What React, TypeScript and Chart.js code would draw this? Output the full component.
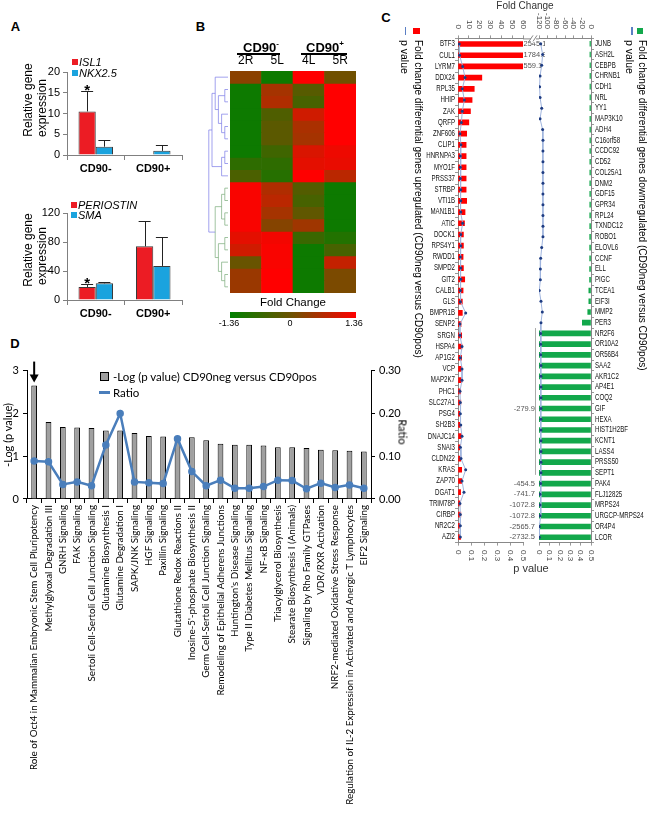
import React, { useEffect, useRef } from 'react';
import { Chart, registerables } from 'chart.js';
Chart.register(...registerables);
Chart.defaults.color = '#000';

const ARIAL = "'Liberation Sans', Arial, sans-serif";
const CAL = "Lato, 'Open Sans', sans-serif";
const RED = '#ec1c24';
const BLUE = '#1aa3de';

// ---------- Panel A data ----------
const A1_CATS = ['CD90-', 'CD90+'];
const ISL1 = [10.5, 0];
const ISL1_ERR = [5.0, 0];
const ISL1_STAR = [true, false];
const NKX25 = [2.0, 1.0];
const NKX25_ERR = [1.5, 1.4];
const A1_TICKS = { max: 20, step: 5 };

const A2_CATS = ['CD90-', 'CD90+'];
const PERIOSTIN = [18, 74];
const PERIOSTIN_ERR = [4, 35];
const PERIOSTIN_STAR = [true, false];
const SMA = [23, 47];
const SMA_ERR = [2, 40];
const A2_TICKS = { max: 120, step: 40 };

// ---------- Panel B data ----------
const HEAT_COLS = ['2R', '5L', '4L', '5R'];
const HEAT_RANGE = 1.36;
const HEAT_ROWS = [
  [0.25, -1.2, 1.36, 0.0],
  [-1.2, 0.5, -0.3, 1.36],
  [-1.2, 0.6, -0.5, 1.36],
  [-1.2, -0.4, 0.9, 1.36],
  [-1.2, -0.25, 0.55, 1.36],
  [-1.2, -0.25, 0.5, 1.36],
  [-1.2, -0.6, 1.0, 1.2],
  [-0.8, -0.8, 1.1, 1.15],
  [-0.45, -0.9, 1.36, 0.7],
  [1.3, 0.6, -0.35, -1.2],
  [1.3, 0.7, -0.5, -1.2],
  [1.3, 0.5, -0.2, -1.2],
  [1.3, 0.2, 0.45, -1.2],
  [1.1, 1.25, -0.65, -0.95],
  [0.9, 1.3, -1.2, -0.5],
  [-0.1, 1.3, -1.2, 0.8],
  [0.4, 1.36, -1.2, 0.1],
  [0.4, 1.36, -1.2, 0.1],
];
const DENDRO_TOP = [[0, [[1, 2], [3, [4, 5]]]], [[6, 7], 8]];
const DENDRO_BOTTOM = [[[9, 10], [11, 12]], [[13, 14], [15, [16, 17]]]];

// ---------- Panel C data ----------
const UP_GENES = ['BTF3', 'CUL1', 'LYRM7', 'DDX24', 'RPL35', 'HHIP', 'ZAK', 'QRFP', 'ZNF606', 'CLIP1', 'HNRNPA3', 'MYO1F', 'PRSS37', 'STRBP', 'VTI1B', 'MAN1B1', 'ATIC', 'DOCK1', 'RPS4Y1', 'RWDD1', 'SMPD2', 'GIT2', 'CALB1', 'GLS', 'BMPR1B', 'SENP2', 'SRGN', 'HSPA4', 'AP1G2', 'VCP', 'MAP2K7', 'PHC1', 'SLC27A1', 'PSG4', 'SH2B3', 'DNAJC14', 'SNAI3', 'CLDN22', 'KRAS', 'ZAP70', 'DGAT1', 'TRIM78P', 'CIRBP', 'NR2C2', 'AZI2'];
const FC_UP = [2545.1, 1784.9, 559.1, 22, 15, 13, 11.5, 10, 8, 7.5, 7.5, 7.5, 7.5, 7.5, 8, 6.5, 6, 5, 5, 4.7, 5, 6.2, 4.7, 4, 4, 2.8, 3.4, 3.7, 3.3, 3.5, 3.6, 2.5, 2.6, 2.4, 2.4, 3.4, 2.4, 2.6, 3.4, 3.4, 2.4, 1.9, 2.6, 2.4, 2.4];
const P_UP = [0.010, 0.012, 0.036, 0.054, 0.033, 0.049, 0.033, 0.026, 0.015, 0.023, 0.018, 0.018, 0.018, 0.021, 0.021, 0.021, 0.036, 0.021, 0.021, 0.018, 0.021, 0.021, 0.018, 0.018, 0.059, 0.015, 0.015, 0.031, 0.018, 0.031, 0.031, 0.015, 0.018, 0.018, 0.021, 0.031, 0.018, 0.023, 0.059, 0.031, 0.046, 0.015, 0.018, 0.018, 0.018];
const DOWN_GENES = ['JUNB', 'ASH2L', 'CEBPB', 'CHRNB1', 'CDH1', 'NRL', 'YY1', 'MAP3K10', 'ADH4', 'C16orf58', 'CCDC92', 'CD52', 'COL25A1', 'DNM2', 'GDF15', 'GPR34', 'RPL24', 'TXNDC12', 'ROBO1', 'ELOVL6', 'CCNF', 'ELL', 'PIGC', 'TCEA1', 'EIF3I', 'MMP2', 'PER3', 'NR2F6', 'OR10A2', 'OR56B4', 'SAA2', 'AKR1C2', 'AP4E1', 'COQ2', 'GIF', 'HEXA', 'HIST1H2BF', 'KCNT1', 'LASS4', 'PRSS50', 'SEPT1', 'PAK4', 'FLJ12825', 'MRPS24', 'URGCP-MRPS24', 'OR4P4', 'LCOR'];
const FC_DOWN = [-2.5, -2.5, -2.5, -2.5, -2.5, -2.5, -2.6, -2.6, -2.6, -2.6, -2.7, -2.7, -2.7, -2.8, -2.8, -2.8, -2.9, -2.9, -3.0, -3.1, -3.1, -3.2, -3.3, -5, -5, -7.5, -20, -135, -150, -160, -175, -190, -200, -210, -279.9, -220, -230, -235, -240, -245, -250, -454.5, -741.7, -1072.8, -1072.8, -2565.7, -2732.5];
const P_DOWN = [0.016, 0.035, 0.026, 0.010, 0.006, 0.010, 0.026, 0.010, 0.035, 0.038, 0.038, 0.038, 0.038, 0.038, 0.038, 0.038, 0.038, 0.038, 0.038, 0.026, 0.016, 0.013, 0.013, 0.003, 0.019, 0.032, 0.019, 0.016, 0.016, 0.016, 0.019, 0.019, 0.019, 0.019, 0.019, 0.019, 0.019, 0.019, 0.019, 0.019, 0.019, 0.016, 0.010, 0.010, 0.010, 0.003, 0.003];
const FC_UP_TICKS = { min: 0, max: 60, step: 10 };
const FC_DOWN_TICKS = { min: -120, max: 0, step: 20 };
const P_TICKS = { min: 0, max: 0.5, step: 0.1 };
const LABEL_THRESHOLD = 275;

// ---------- Panel D data ----------
const D_PATHWAYS = ['Role of Oct4 in Mammalian Embryonic Stem Cell Pluripotency', 'Methylglyoxal Degradation III', 'GNRH Signaling', 'FAK Signaling', 'Sertoli Cell-Sertoli Cell Junction Signaling', 'Glutamine Biosynthesis I', 'Glutamine Degradation I', 'SAPK/JNK Signaling', 'HGF Signaling', 'Paxillin Signaling', 'Glutathione Redox Reactions II', "Inosine-5'-phosphate Biosynthesis II", 'Germ Cell-Sertoli Cell Junction Signaling', 'Remodeling of Epithelial Adherens Junctions', "Huntington's Disease Signaling", 'Type II Diabetes Mellitus Signaling', 'NF-κB Signaling', 'Triacylglycerol Biosynthesis', 'Stearate Biosynthesis I (Animals)', 'Signaling by Rho Family GTPases', 'VDR/RXR Activation', 'NRF2-mediated Oxidative Stress Response', 'Regulation of IL-2 Expression in Activated and Anergic T Lymphocytes', 'EIF2 Signaling'];
const D_LOGP = [2.65, 1.80, 1.68, 1.67, 1.66, 1.60, 1.60, 1.54, 1.47, 1.46, 1.44, 1.44, 1.37, 1.29, 1.27, 1.27, 1.25, 1.21, 1.21, 1.19, 1.15, 1.14, 1.13, 1.11];
const D_RATIO = [0.089, 0.087, 0.034, 0.040, 0.031, 0.126, 0.200, 0.040, 0.038, 0.036, 0.141, 0.064, 0.031, 0.044, 0.025, 0.025, 0.029, 0.044, 0.043, 0.024, 0.037, 0.027, 0.033, 0.025];
const D_ARROW = [0];

// ---------- helpers ----------
function heatColor(v: number) {
  const t = Math.max(-1, Math.min(1, v / HEAT_RANGE));
  const mid = [112, 80, 0], g = [0, 128, 0], r = [255, 0, 0];
  const end = t < 0 ? g : r;
  const a = Math.abs(t);
  const c = mid.map((m, k) => Math.round(m + (end[k] - m) * a));
  return `rgb(${c.join(',')})`;
}

const errorBars = {
  id: 'errorBars',
  afterDatasetsDraw(chart: any) {
    const { ctx } = chart;
    const ys = chart.scales.y;
    chart.data.datasets.forEach((ds: any, di: number) => {
      const meta = chart.getDatasetMeta(di);
      meta.data.forEach((el: any, i: number) => {
        const v = ds.data[i];
        const e = ds.errors ? ds.errors[i] : 0;
        const top = ys.getPixelForValue(v + e);
        if (e > 0) {
          ctx.save();
          ctx.strokeStyle = '#222';
          ctx.lineWidth = 1;
          ctx.beginPath();
          ctx.moveTo(Math.round(el.x) + 0.5, el.y);
          ctx.lineTo(Math.round(el.x) + 0.5, Math.round(top) + 0.5);
          ctx.moveTo(el.x - 6, Math.round(top) + 0.5);
          ctx.lineTo(el.x + 6, Math.round(top) + 0.5);
          ctx.stroke();
          ctx.restore();
        }
        if (ds.stars && ds.stars[i]) {
          ctx.save();
          ctx.font = `bold 15px ${ARIAL}`;
          ctx.fillStyle = '#000';
          ctx.textAlign = 'center';
          ctx.textBaseline = 'alphabetic';
          ctx.fillText('*', el.x, top + 4);
          ctx.restore();
        }
      });
    });
  },
};

function barAConfig(cats: string[], s1: number[], e1: number[], st1: boolean[], s2: number[], e2: number[], ticks: any, padTop: number) {
  return {
    type: 'bar',
    data: {
      labels: cats,
      datasets: [
        { data: s1, errors: e1, stars: st1, backgroundColor: RED, borderColor: '#3a3a3a', borderWidth: 1, barPercentage: 1, categoryPercentage: 0.6 },
        { data: s2, errors: e2, backgroundColor: BLUE, borderColor: '#3a3a3a', borderWidth: 1, barPercentage: 1, categoryPercentage: 0.6 },
      ],
    },
    options: {
      responsive: false,
      animation: false,
      layout: { padding: { left: 0, right: 18, top: padTop, bottom: 0 } },
      plugins: { legend: { display: false }, tooltip: { enabled: false } },
      scales: {
        x: {
          grid: { drawOnChartArea: false, drawTicks: true, tickLength: 5, color: '#808080', offset: true },
          border: { display: true, color: '#808080' },
          ticks: { font: { family: ARIAL, size: 11, weight: 'bold' }, color: '#000', padding: 2 },
          afterFit: (s: any) => { s.height = 30; },
        },
        y: {
          min: 0,
          max: ticks.max,
          ticks: { stepSize: ticks.step, font: { family: ARIAL, size: 11 }, color: '#000', padding: 3 },
          grid: { drawOnChartArea: false, drawTicks: true, tickLength: 4, color: '#808080' },
          border: { display: true, color: '#808080' },
          afterFit: (s: any) => { s.width = 67; },
        },
      },
    },
    plugins: [errorBars],
  };
}

const dendroPlugin = {
  id: 'dendro',
  afterDraw(chart: any) {
    const { ctx, chartArea } = chart;
    const ys = chart.scales.y;
    const X = (h: number) => chartArea.left - 2 - h * 3.2;
    const rowY = (i: number) => ys.getPixelForValue(i + 0.5);
    const draw = (node: any): { y: number; h: number } => {
      if (typeof node === 'number') return { y: rowY(node), h: 0 };
      const a = draw(node[0]);
      const b = draw(node[1]);
      const h = Math.max(a.h, b.h) + 1;
      ctx.moveTo(X(a.h), a.y);
      ctx.lineTo(X(h), a.y);
      ctx.lineTo(X(h), b.y);
      ctx.lineTo(X(b.h), b.y);
      return { y: (a.y + b.y) / 2, h };
    };
    ctx.save();
    ctx.lineWidth = 0.7;
    ctx.strokeStyle = '#7a7ae6';
    ctx.beginPath();
    const t = draw(DENDRO_TOP);
    ctx.stroke();
    ctx.strokeStyle = '#78ab78';
    ctx.beginPath();
    const b = draw(DENDRO_BOTTOM);
    ctx.stroke();
    const h = Math.max(t.h, b.h) + 1;
    ctx.strokeStyle = '#7a7ae6';
    ctx.beginPath();
    ctx.moveTo(X(t.h), t.y);
    ctx.lineTo(X(h), t.y);
    ctx.lineTo(X(h), b.y);
    ctx.lineTo(X(b.h), b.y);
    ctx.stroke();
    ctx.restore();
  },
};

function heatConfig() {
  return {
    type: 'bar',
    data: {
      labels: HEAT_COLS,
      datasets: HEAT_ROWS.map((row) => ({
        data: row.map(() => 1),
        backgroundColor: row.map(heatColor),
        borderWidth: 0,
        barPercentage: 1,
        categoryPercentage: 1,
      })),
    },
    options: {
      responsive: false,
      animation: false,
      layout: { padding: { left: 25, right: 14, top: 0, bottom: 7 } },
      plugins: { legend: { display: false }, tooltip: { enabled: false } },
      scales: {
        x: {
          position: 'top',
          stacked: true,
          grid: { display: false, drawTicks: false },
          border: { display: false },
          ticks: { font: { family: ARIAL, size: 12 }, color: '#000', padding: 3 },
          afterFit: (s: any) => { s.height = 31; },
        },
        y: { stacked: true, display: false, min: 0, max: HEAT_ROWS.length, reverse: true },
      },
    },
    plugins: [dendroPlugin],
  };
}

function cLabelsPlugin(side: 'left' | 'right', topAnchor: number, bottomAnchor: number) {
  return {
    id: 'clabels' + side,
    afterDraw(chart: any) {
      const { ctx, chartArea } = chart;
      const ys = chart.scales.y;
      ctx.save();
      ctx.fillStyle = '#111';
      ctx.textBaseline = 'middle';
      ctx.font = `8.5px ${ARIAL}`;
      chart.data.labels.forEach((lab: string, i: number) => {
        const py = ys.getPixelForValue(i);
        const px = side === 'left' ? chartArea.left - 3 : chartArea.right + 4;
        ctx.save();
        ctx.translate(px, py);
        ctx.scale(0.72, 1);
        ctx.textAlign = side === 'left' ? 'right' : 'left';
        ctx.fillText(lab, 0, 0);
        ctx.restore();
      });
      ctx.fillStyle = '#444';
      ctx.font = `8px ${ARIAL}`;
      const axis = (scale: any, anchor: number, align: any) => {
        scale.ticks.forEach((t: any) => {
          const px = scale.getPixelForValue(t.value);
          ctx.save();
          ctx.translate(px, anchor);
          ctx.rotate(Math.PI / 2);
          ctx.textAlign = align;
          ctx.fillText(String(Math.round(t.value * 10) / 10), 0, 0);
          ctx.restore();
        });
      };
      axis(chart.scales.fc, topAnchor, 'right');
      axis(chart.scales.p, bottomAnchor, 'left');
      ctx.restore();
    },
  };
}

const valueLabels = {
  id: 'valueLabels',
  afterDatasetsDraw(chart: any) {
    const { ctx, chartArea } = chart;
    const fc = chart.scales.fc;
    chart.data.datasets.forEach((ds: any, di: number) => {
      if (ds.type !== 'bar') return;
      const meta = chart.getDatasetMeta(di);
      ctx.save();
      ctx.font = `7.5px ${ARIAL}`;
      ctx.fillStyle = '#555';
      ctx.textBaseline = 'middle';
      let first = -1, last = -1;
      meta.data.forEach((el: any, i: number) => {
        const v = ds.data[i];
        if (v > fc.max) {
          ctx.textAlign = 'left';
          ctx.fillText(v.toFixed(1), chartArea.right + 0.5, el.y);
        } else if (v < fc.min) {
          if (Math.abs(v) >= LABEL_THRESHOLD) {
            ctx.textAlign = 'right';
            ctx.fillText(v.toFixed(1), chartArea.left - 4, el.y);
          } else {
            if (first < 0) first = i;
            last = i;
          }
        }
      });
      if (first >= 0) {
        const ys = chart.scales.y;
        const half = (ys.getPixelForValue(1) - ys.getPixelForValue(0)) / 2;
        ctx.strokeStyle = '#aaa';
        ctx.lineWidth = 1;
        ctx.beginPath();
        ctx.moveTo(chartArea.left - 3.5, ys.getPixelForValue(first) - half);
        ctx.lineTo(chartArea.left - 3.5, ys.getPixelForValue(last) + 2);
        ctx.stroke();
        // axis break connector on top axis
        ctx.strokeStyle = '#888';
        ctx.beginPath();
        ctx.moveTo(chartArea.left - 16, chartArea.top + 0.5);
        ctx.lineTo(chartArea.left, chartArea.top + 0.5);
        ctx.stroke();
        ctx.fillStyle = '#fff';
        ctx.fillRect(chartArea.left - 8, chartArea.top - 4, 5, 8);
        ctx.beginPath();
        ctx.moveTo(chartArea.left - 10, chartArea.top + 3);
        ctx.lineTo(chartArea.left - 6, chartArea.top - 3);
        ctx.moveTo(chartArea.left - 6, chartArea.top + 3);
        ctx.lineTo(chartArea.left - 2, chartArea.top - 3);
        ctx.stroke();
      }
      ctx.restore();
    });
  },
};

function cConfig(side: 'left' | 'right') {
  const up = side === 'left';
  const fcT = up ? FC_UP_TICKS : FC_DOWN_TICKS;
  const gridC = { drawOnChartArea: false, drawTicks: true, tickLength: 3, color: '#999' };
  return {
    type: 'bar',
    data: {
      labels: up ? UP_GENES : DOWN_GENES,
      datasets: [
        { type: 'line', data: up ? P_UP : P_DOWN, xAxisID: 'p', yAxisID: 'y', borderColor: '#9fb4de', borderWidth: 1, pointRadius: 1.5, pointBackgroundColor: '#1e3c82', pointBorderWidth: 0, order: 0 },
        { type: 'bar', data: up ? FC_UP : FC_DOWN, xAxisID: 'fc', yAxisID: 'y', backgroundColor: up ? '#ff0000' : '#12a84b', barThickness: 5, order: 1 },
      ],
    },
    options: {
      indexAxis: 'y',
      responsive: false,
      animation: false,
      layout: { padding: up ? { left: 0, right: 22, top: 0, bottom: 0 } : { left: 44, right: 0, top: 0, bottom: 0 } },
      plugins: { legend: { display: false }, tooltip: { enabled: false } },
      scales: {
        y: {
          type: 'category',
          position: up ? 'left' : 'right',
          offset: true,
          ticks: { display: false },
          grid: { ...gridC, offset: true },
          border: { display: true, color: '#888' },
          afterFit: (s: any) => { s.width = up ? 88 : 56; },
        },
        fc: {
          type: 'linear',
          axis: 'x',
          position: 'top',
          min: fcT.min,
          max: fcT.max,
          ticks: { display: false, stepSize: fcT.step },
          grid: gridC,
          border: { display: true, color: '#888' },
          afterFit: (s: any) => { s.height = 38.4; },
        },
        p: {
          type: 'linear',
          axis: 'x',
          position: 'bottom',
          min: P_TICKS.min,
          max: P_TICKS.max,
          ticks: { display: false, stepSize: P_TICKS.step },
          grid: gridC,
          border: { display: true, color: '#888' },
          afterFit: (s: any) => { s.height = 37.4; },
        },
      },
    },
    plugins: [cLabelsPlugin(side, 29, 550), valueLabels],
  };
}

const arrowPlugin = {
  id: 'arrow',
  afterDatasetsDraw(chart: any) {
    const { ctx } = chart;
    const ys = chart.scales.y;
    const xs = chart.scales.x;
    D_ARROW.forEach((i) => {
      const x = xs.getPixelForValue(i);
      const top = ys.getPixelForValue(D_LOGP[i]);
      ctx.save();
      ctx.strokeStyle = '#000';
      ctx.fillStyle = '#000';
      ctx.lineWidth = 2;
      ctx.beginPath();
      ctx.moveTo(x, top - 24);
      ctx.lineTo(x, top - 10);
      ctx.stroke();
      ctx.beginPath();
      ctx.moveTo(x - 4.5, top - 11);
      ctx.lineTo(x + 4.5, top - 11);
      ctx.lineTo(x, top - 3);
      ctx.closePath();
      ctx.fill();
      ctx.restore();
    });
  },
};

function dConfig() {
  const grid = { drawOnChartArea: false, drawTicks: true, tickLength: 4, color: '#000' };
  return {
    type: 'bar',
    data: {
      labels: D_PATHWAYS,
      datasets: [
        { type: 'line', data: D_RATIO, yAxisID: 'y2', borderColor: '#4a7ebb', backgroundColor: '#4a7ebb', borderWidth: 2.5, pointRadius: 2.5, order: 0 },
        { type: 'bar', data: D_LOGP, yAxisID: 'y', backgroundColor: '#a0a0a0', borderColor: '#000', borderWidth: 1, barPercentage: 0.4, categoryPercentage: 1, order: 1 },
      ],
    },
    options: {
      responsive: false,
      animation: false,
      layout: { padding: { left: 0, right: 0, top: 10, bottom: 0 } },
      plugins: { legend: { display: false }, tooltip: { enabled: false } },
      scales: {
        x: {
          ticks: { autoSkip: false, minRotation: 90, maxRotation: 90, font: { family: CAL, size: 9.8 }, color: '#000', padding: 2 },
          grid: { ...grid, offset: true },
          border: { display: true, color: '#000' },
          afterFit: (s: any) => { s.height = 332; },
        },
        y: {
          min: 0,
          max: 3,
          ticks: { stepSize: 1, font: { family: CAL, size: 11 }, color: '#000', padding: 4 },
          grid,
          border: { display: true, color: '#000' },
          afterFit: (s: any) => { s.width = 27; },
        },
        y2: {
          position: 'right',
          min: 0,
          max: 0.3,
          ticks: { stepSize: 0.1, font: { family: CAL, size: 11 }, color: '#000', padding: 4, callback: (v: any) => Number(v).toFixed(2) },
          grid,
          border: { display: true, color: '#000' },
          afterFit: (s: any) => { s.width = 49; },
        },
      },
    },
    plugins: [arrowPlugin],
  };
}

// ---------- components ----------
function ChartBox({ left, top, width, height, make }: any) {
  const ref = useRef<HTMLCanvasElement>(null);
  useEffect(() => {
    const c = new Chart(ref.current as HTMLCanvasElement, make());
    return () => c.destroy();
  }, []);
  return <canvas ref={ref} width={width} height={height} style={{ position: 'absolute', left, top, width, height }} />;
}

function CT({ cx, cy, rot = 0, size = 11, font = ARIAL, weight = 'normal', italic = false, color = '#000', children }: any) {
  return (
    <div style={{ position: 'absolute', left: cx, top: cy, transform: `translate(-50%,-50%) rotate(${rot}deg)`, whiteSpace: 'nowrap', fontFamily: font, fontSize: size, fontWeight: weight, fontStyle: italic ? 'italic' : 'normal', color, lineHeight: 1 }}>
      {children}
    </div>
  );
}

function LT({ x, cy, size = 11, font = ARIAL, italic = false, children }: any) {
  return (
    <div style={{ position: 'absolute', left: x, top: cy, transform: 'translateY(-50%)', whiteSpace: 'nowrap', fontFamily: font, fontSize: size, fontStyle: italic ? 'italic' : 'normal', lineHeight: 1 }}>
      {children}
    </div>
  );
}

function VT({ cx, top, size = 10, children }: any) {
  return (
    <div style={{ position: 'absolute', left: cx - size * 0.6, top, width: size * 1.2, lineHeight: `${size * 1.2}px`, writingMode: 'vertical-rl', whiteSpace: 'nowrap', fontFamily: ARIAL, fontSize: size, color: '#000' }}>
      {children}
    </div>
  );
}

function Box({ x, y, w, h, bg, border }: any) {
  return <div style={{ position: 'absolute', left: x, top: y, width: w, height: h, background: bg, border: border || 'none', boxSizing: 'border-box' }} />;
}

export default function App() {
  return (
    <div style={{ position: 'absolute', left: 0, top: 0, width: 647, height: 831, background: '#fff', overflow: 'hidden' }}>
      {/* Panel labels */}
      <CT cx={15.5} cy={26} size={13} weight="bold">A</CT>
      <CT cx={200.5} cy={26} size={13} weight="bold">B</CT>
      <CT cx={386} cy={17} size={13} weight="bold">C</CT>
      <CT cx={15} cy={343} size={13} weight="bold">D</CT>

      {/* Panel A */}
      <ChartBox left={0} top={50} width={200} height={135} make={() => barAConfig(A1_CATS, ISL1, ISL1_ERR, ISL1_STAR, NKX25, NKX25_ERR, A1_TICKS, 22)} />
      <Box x={72} y={59} w={6} h={6} bg={RED} />
      <LT x={79} cy={62} italic>ISL1</LT>
      <Box x={72} y={69.5} w={6} h={6} bg={BLUE} />
      <LT x={79} cy={72.5} italic>NKX2.5</LT>
      <CT cx={28} cy={100} rot={-90} size={12}>Relative gene</CT>
      <CT cx={42} cy={108} rot={-90} size={12}>expression</CT>

      <ChartBox left={0} top={190} width={200} height={140} make={() => barAConfig(A2_CATS, PERIOSTIN, PERIOSTIN_ERR, PERIOSTIN_STAR, SMA, SMA_ERR, A2_TICKS, 23)} />
      <Box x={71} y={202} w={6} h={6} bg={RED} />
      <LT x={78} cy={205} italic>PERIOSTIN</LT>
      <Box x={71} y={211.5} w={6} h={6} bg={BLUE} />
      <LT x={78} cy={214.5} italic>SMA</LT>
      <CT cx={28} cy={250} rot={-90} size={12}>Relative gene</CT>
      <CT cx={42} cy={256} rot={-90} size={12}>expression</CT>

      {/* Panel B */}
      <ChartBox left={205} top={40} width={165} height={260} make={heatConfig} />
      <CT cx={261} cy={47} size={13} weight="bold">CD90<sup style={{ fontSize: 8 }}>-</sup></CT>
      <Box x={237} y={53} w={43} h={1.5} bg="#000" />
      <CT cx={325} cy={47} size={13} weight="bold">CD90<sup style={{ fontSize: 8 }}>+</sup></CT>
      <Box x={301} y={53} w={46} h={1.5} bg="#000" />
      <CT cx={293} cy={303} size={11.5}>Fold Change</CT>
      <Box x={230} y={312} w={126} h={6} bg="linear-gradient(to right, rgb(0,128,0), rgb(112,80,0), rgb(255,0,0))" />
      <CT cx={229} cy={323} size={9}>-1.36</CT>
      <CT cx={290} cy={323} size={9}>0</CT>
      <CT cx={354} cy={323} size={9}>1.36</CT>

      {/* Panel C */}
      <ChartBox left={370} top={0} width={175} height={580} make={() => cConfig('left')} />
      <ChartBox left={495} top={0} width={152} height={580} make={() => cConfig('right')} />
      <CT cx={525} cy={6} size={10} color="#333">Fold Change</CT>
      <CT cx={531} cy={568} size={11} color="#333">p value</CT>
      <Box x={404.5} y={27} w={1.5} h={8} bg="#5b7fc4" />
      <Box x={413} y={27.5} w={7} h={6} bg="#ff0000" />
      <VT cx={405} top={40} size={10.5}>p value</VT>
      <VT cx={418} top={40} size={10}>Fold change differential genes upregulated (CD90neg versus CD90pos)</VT>
      <Box x={631} y={27} w={1.5} h={8} bg="#5b7fc4" />
      <Box x={637} y={27.5} w={6} h={6} bg="#12a84b" />
      <VT cx={630} top={40} size={10.5}>p value</VT>
      <VT cx={642} top={40} size={10}>Fold change differential genes downregulated (CD90neg versus CD90pos)</VT>

      {/* Panel D */}
      <ChartBox left={0} top={360} width={420} height={471} make={dConfig} />
      <CT cx={7} cy={435} rot={-90} size={11} font={CAL}>-Log (p value)</CT>
      <CT cx={403} cy={432} rot={90} size={11} font={CAL}>Ratio</CT>
      <Box x={100} y={372} w={9} h={9} bg="#a0a0a0" border="1px solid #000" />
      <LT x={113} cy={377} size={11.5} font={CAL}>-Log (p value) CD90neg versus CD90pos</LT>
      <Box x={99} y={391} w={11} h={3} bg="#4a7ebb" />
      <LT x={113} cy={392.5} size={11.5} font={CAL}>Ratio</LT>
    </div>
  );
}
